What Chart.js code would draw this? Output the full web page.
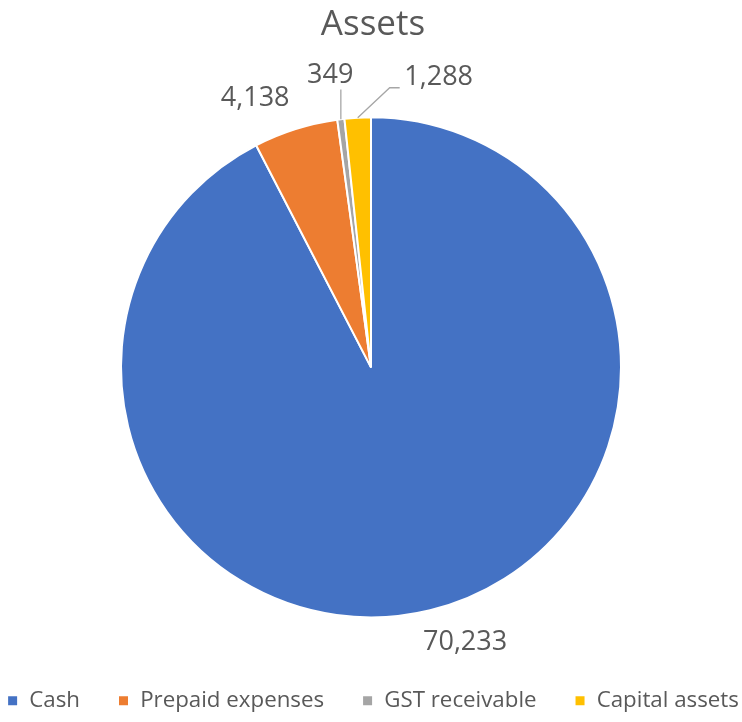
<!DOCTYPE html>
<html>
<head>
<meta charset="utf-8">
<script src="https://cdn.jsdelivr.net/npm/chart.js@4"></script>
<style>
  html, body { margin: 0; padding: 0; background: #fff; }
  #wrap { width: 742px; height: 722px; }
</style>
</head>
<body>
<div id="wrap"><canvas id="graphe"></canvas></div>
<script>
// Assets — pie chart

const categories = ["Cash", "Prepaid expenses", "GST receivable", "Capital assets"];
const valeurs = [70233, 4138, 349, 1288];
const couleurs = ["#4472C4", "#ED7D31", "#A5A5A5", "#FFC000"];

// déplacement des étiquettes par rapport au point calculé hors du camembert
const decalages = [[26, -5], [-29, 6], [-6, -6], [83, -2]];
const avecRepere = [false, false, true, true];

const texteGris = "#595959";
const police = "'Open Sans', 'DejaVu Sans', sans-serif";

const etiquettes = {
  id: "etiquettes",
  afterDraw(chart) {
    const ctx = chart.ctx;
    const arcs = chart.getDatasetMeta(0).data;
    ctx.save();
    ctx.font = "27px " + police;
    ctx.fillStyle = texteGris;
    ctx.textAlign = "center";
    ctx.textBaseline = "middle";
    arcs.forEach((arc, i) => {
      const mid = (arc.startAngle + arc.endAngle) / 2;
      const r = arc.outerRadius;
      const lx = arc.x + Math.cos(mid) * (r + 38) + decalages[i][0];
      const ly = arc.y + Math.sin(mid) * (r + 38) + decalages[i][1];
      if (avecRepere[i]) {
        const ex = arc.x + Math.cos(mid) * r;
        const ey = arc.y + Math.sin(mid) * r;
        ctx.strokeStyle = "#A6A6A6";
        ctx.lineWidth = 1.3;
        ctx.beginPath();
        ctx.moveTo(ex, ey);
        if (i === 2) {
          ctx.lineTo(ex, ly + 14);
        } else {
          ctx.lineTo(lx - 49, ly + 10);
          ctx.lineTo(lx - 39, ly + 10);
        }
        ctx.stroke();
      }
      ctx.fillText(valeurs[i].toLocaleString("en-US"), lx, ly);
    });
    ctx.restore();
  },
};

new Chart(document.getElementById("graphe"), {
  type: "pie",
  data: {
    labels: categories,
    datasets: [{
      data: valeurs,
      backgroundColor: couleurs,
      borderColor: "#ffffff",
      borderWidth: 2,
    }],
  },
  options: {
    responsive: true,
    maintainAspectRatio: false,
    animation: false,
    radius: 250,
    layout: { padding: { top: 0, bottom: 0, left: -40, right: -44 } },
    plugins: {
      title: {
        display: true,
        text: "Assets",
        color: texteGris,
        font: { family: police, size: 35, weight: "normal" },
        padding: { top: 4, bottom: 37 },
      },
      legend: {
        position: "bottom",
        labels: {
          color: texteGris,
          font: { family: police, size: 22.3 },
          boxWidth: 11,
          boxHeight: 11,
          padding: 38,
        },
      },
      tooltip: { enabled: false },
    },
  },
  plugins: [etiquettes],
});
</script>
</body>
</html>
